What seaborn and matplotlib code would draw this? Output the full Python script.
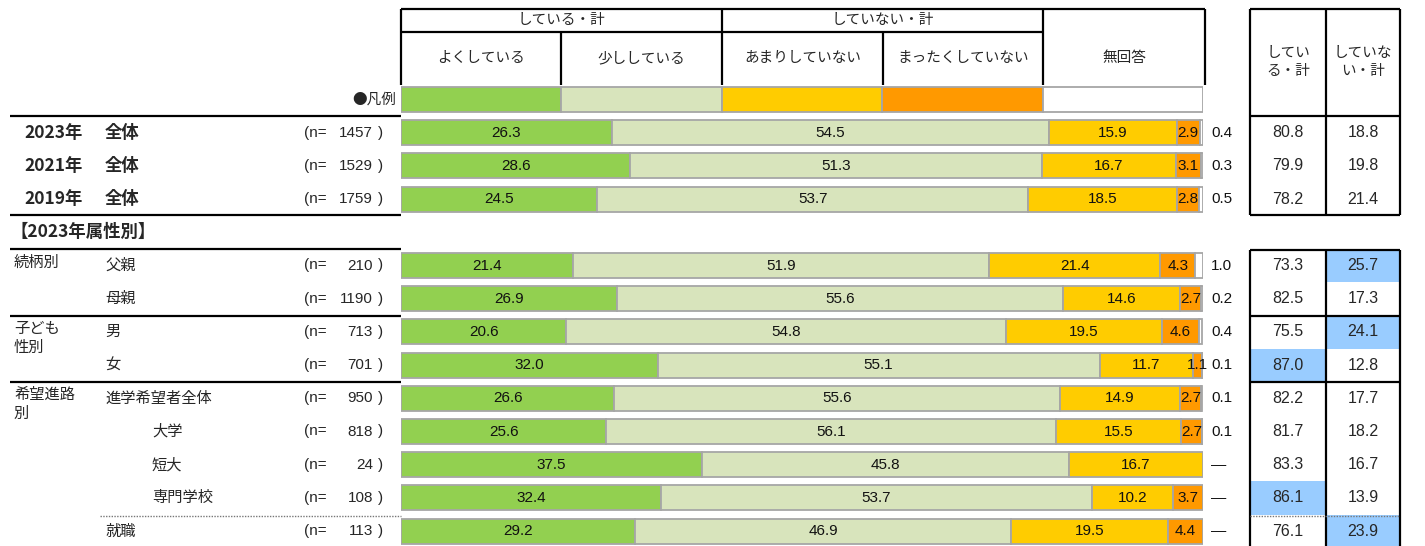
import numpy as np
import pandas as pd
import matplotlib
matplotlib.use("Agg")
import matplotlib.pyplot as plt
from matplotlib.patches import Rectangle
import seaborn as sns

# ---------------- data ----------------
categories = ["よくしている", "少ししている", "あまりしていない", "まったくしていない", "無回答"]
row_names = ["2023年 全体", "2021年 全体", "2019年 全体", "父親", "母親", "男", "女",
             "進学希望者全体", "大学", "短大", "専門学校", "就職"]
n_values = [1457, 1529, 1759, 210, 1190, 713, 701, 950, 818, 24, 108, 113]
yoku = [26.3, 28.6, 24.5, 21.4, 26.9, 20.6, 32.0, 26.6, 25.6, 37.5, 32.4, 29.2]
sukoshi = [54.5, 51.3, 53.7, 51.9, 55.6, 54.8, 55.1, 55.6, 56.1, 45.8, 53.7, 46.9]
amari = [15.9, 16.7, 18.5, 21.4, 14.6, 19.5, 11.7, 14.9, 15.5, 16.7, 10.2, 19.5]
mattaku = [2.9, 3.1, 2.8, 4.3, 2.7, 4.6, 1.1, 2.7, 2.7, 0.0, 3.7, 4.4]
mukaitou = [0.4, 0.3, 0.5, 1.0, 0.2, 0.4, 0.1, 0.1, 0.1, 0.0, 0.0, 0.0]
shiteiru_total = [80.8, 79.9, 78.2, 73.3, 82.5, 75.5, 87.0, 82.2, 81.7, 83.3, 86.1, 76.1]
shiteinai_total = [18.8, 19.8, 21.4, 25.7, 17.3, 24.1, 12.8, 17.7, 18.2, 16.7, 13.9, 23.9]
# highlighted cells in the totals table: (row index, column index)
highlight_cells = [(3, 1), (5, 1), (6, 0), (10, 0), (11, 1)]

# ---------------- styling ----------------
colors = ["#92D050", "#D8E4BC", "#FFCC00", "#FF9900", "#FFFFFF"]
edge_gray = "#A6A6A6"
blue = "#99CCFF"
row_pos = [1, 2, 3, 5, 6, 7, 8, 9, 10, 11, 12, 13]  # slot 0 = legend, slot 4 = section header

sns.set_style("white")
plt.rcParams["font.family"] = ["Noto Sans CJK JP", "DejaVu Sans"]
NUM_FONT = ["Liberation Sans", "DejaVu Sans"]
JP = 10.5      # header / label size
JPB = 12.5     # bold labels

W, H = 1425, 546
fig = plt.figure(figsize=(W / 100, H / 100), dpi=100)

pax = fig.add_axes([0, 0, 1, 1])
pax.set_xlim(0, W)
pax.set_ylim(H, 0)
pax.axis("off")

X0, X1 = 401, 1203
R0, RS = 99.5, 33.2
bax = fig.add_axes([X0 / W, 0, (X1 - X0) / W, 1])
bax.patch.set_alpha(0)

def row_px(r):
    return R0 + RS * r

series = [yoku, sukoshi, amari, mattaku, mukaitou]
recs = []
for i, name in enumerate(row_names):
    left = 0.0
    for c, vals in zip(categories, series):
        recs.append(dict(row=row_pos[i], name=name, answer=c, value=vals[i], left=left))
        left += vals[i]
df = pd.DataFrame(recs)

for c, col in zip(categories, colors):
    sub = df[(df["answer"] == c) & (df["value"] > 0)].sort_values("row")
    sns.barplot(data=sub, x="value", y="row", orient="y", native_scale=True,
                color=col, saturation=1, width=0.75, errorbar=None,
                left=sub["left"].values, edgecolor=edge_gray, linewidth=1.3,
                ax=bax)

leg = pd.DataFrame(dict(row=[0] * 5, value=[20] * 5, left=[0, 20, 40, 60, 80]))
for k, col in enumerate(colors):
    s = leg.iloc[[k]]
    sns.barplot(data=s, x="value", y="row", orient="y", native_scale=True,
                color=col, saturation=1, width=0.75, errorbar=None,
                left=s["left"].values, edgecolor=edge_gray, linewidth=1.3, ax=bax)

bax.set_xlim(0, 100)
bax.set_ylim((H - R0) / RS, -R0 / RS)
bax.axis("off")

for _, r in df.iterrows():
    if r["answer"] == "無回答" or r["value"] <= 0:
        continue
    bax.text(r["left"] + r["value"] / 2, r["row"], f"{r['value']:.1f}", ha="center", va="center",
             fontsize=11, family=NUM_FONT, color="#111111")
for i in range(len(row_names)):
    v = mukaitou[i]
    lab = f"{v:.1f}" if v > 0 else "—"
    bax.text(101.0, row_pos[i], lab, ha="left", va="center", fontsize=11,
             family=NUM_FONT, color="#111111", clip_on=False)

# ---------------- header table ----------------
lw = 1.6
def hline(y, x0, x1, **kw):
    pax.plot([x0, x1], [y, y], color=kw.get("color", "black"), lw=kw.get("lw", lw),
             ls=kw.get("ls", "-"), solid_capstyle="butt")
def vline(x, y0, y1, **kw):
    pax.plot([x, x], [y0, y1], color=kw.get("color", "black"), lw=kw.get("lw", lw),
             solid_capstyle="butt")

hline(9, 401, 1205)
hline(32, 401, 1043)
for x in [401, 722, 1043, 1205]:
    vline(x, 9, 85)
for x in [561, 883]:
    vline(x, 32, 85)
pax.text(561, 20, "している・計", ha="center", va="center", fontsize=JP)
pax.text(883, 20, "していない・計", ha="center", va="center", fontsize=JP)
col_edges = [401, 561, 722, 883, 1043, 1205]
for k, c in enumerate(categories):
    pax.text((col_edges[k] + col_edges[k + 1]) / 2, 58, c, ha="center", va="center", fontsize=JP)
pax.text(396, row_px(0), "●凡例", ha="right", va="center", fontsize=JP)

# ---------------- left labels ----------------
hline(116, 10, 401)
hline(215, 10, 401)
hline(249, 10, 401)
hline(316, 10, 401)
hline(382, 10, 401)
hline(516, 100, 401, color="#777777", lw=1.0, ls=(0, (1, 1)))

for i in range(3):
    yr, lab = row_names[i].split(" ")
    pax.text(24, row_px(row_pos[i]), yr, ha="left", va="center", fontsize=JPB, weight="bold")
    pax.text(105, row_px(row_pos[i]), lab, ha="left", va="center", fontsize=JPB, weight="bold")
pax.text(10, row_px(4), "【2023年属性別】", ha="left", va="center", fontsize=JPB, weight="bold")

indent = {"大学": 152, "短大": 152, "専門学校": 152}
for i in range(3, len(row_names)):
    nm = row_names[i]
    pax.text(indent.get(nm, 105), row_px(row_pos[i]), nm, ha="left", va="center", fontsize=11)
group_labels = [("続柄別", 5), ("子ども\n性別", 7), ("希望進路\n別", 9)]
for g, r in group_labels:
    pax.text(14, row_px(r) - 12, g, ha="left", va="top", fontsize=11, linespacing=1.15)

for i in range(len(row_names)):
    y = row_px(row_pos[i])
    pax.text(304, y, "(n=", ha="left", va="center", fontsize=11, family=NUM_FONT)
    pax.text(373, y, f"{n_values[i]}", ha="right", va="center", fontsize=11, family=NUM_FONT)
    pax.text(378, y, ")", ha="left", va="center", fontsize=11, family=NUM_FONT)

# ---------------- totals table ----------------
TX = [1250, 1326, 1400]
for (i, c) in highlight_cells:
    y = row_px(row_pos[i])
    pax.add_patch(Rectangle((TX[c], y - RS / 2), TX[c + 1] - TX[c], RS,
                            facecolor=blue, edgecolor="none", zorder=1))
vline(1250, 9, 215); vline(1326, 9, 215); vline(1400, 9, 215)
hline(9, 1250, 1400); hline(116, 1250, 1400); hline(215, 1250, 1400)
pax.text(1288, 62, "してい\nる・計", ha="center", va="center", fontsize=JP, linespacing=1.3)
pax.text(1363, 62, "していな\nい・計", ha="center", va="center", fontsize=JP, linespacing=1.3)
vline(1250, 250, 546); vline(1326, 250, 546); vline(1400, 250, 546)
hline(250, 1250, 1400); hline(316, 1250, 1400); hline(382, 1250, 1400)
hline(516, 1250, 1400, color="#777777", lw=1.0, ls=(0, (1, 1)))

for i in range(len(row_names)):
    y = row_px(row_pos[i])
    pax.text(1288, y, f"{shiteiru_total[i]:.1f}", ha="center", va="center",
             fontsize=11.5, family=NUM_FONT, zorder=3)
    pax.text(1363, y, f"{shiteinai_total[i]:.1f}", ha="center", va="center",
             fontsize=11.5, family=NUM_FONT, zorder=3)

fig.savefig("out.png", dpi=100)
